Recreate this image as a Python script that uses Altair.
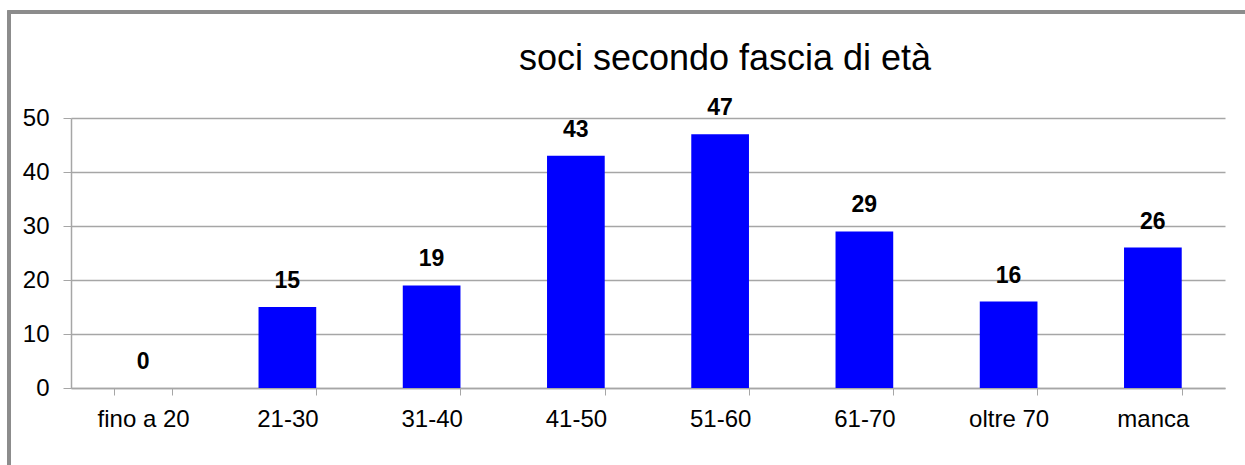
import altair as alt
import pandas as pd

categories = ["fino a 20", "21-30", "31-40", "41-50", "51-60", "61-70", "oltre 70", "manca"]
values = [0, 15, 19, 43, 47, 29, 16, 26]
y_ticks = [0, 10, 20, 30, 40, 50]

df = pd.DataFrame({"fascia": categories, "soci": values})

FONT = "Liberation Sans"
GRID = "#A6A6A6"

x_enc = alt.X(
    "fascia:N",
    sort=categories,
    scale=alt.Scale(paddingInner=0.6, paddingOuter=0.3),
    axis=alt.Axis(
        title=None,
        labelAngle=0,
        labelFont=FONT,
        labelFontSize=24,
        labelColor="#000000",
        labelPadding=12,
        tickBand="extent",
        tickSize=7,
        tickColor=GRID,
        domainColor=GRID,
        domainWidth=1.5,
        grid=False,
    ),
)
y_enc = alt.Y(
    "soci:Q",
    scale=alt.Scale(domain=[0, 50], nice=False),
    axis=alt.Axis(
        title=None,
        values=y_ticks,
        labelFont=FONT,
        labelFontSize=24,
        labelColor="#000000",
        labelPadding=14,
        tickSize=8,
        tickColor=GRID,
        domainColor=GRID,
        domainWidth=1.5,
        grid=True,
        gridColor=GRID,
        gridWidth=1.5,
    ),
)

bars = alt.Chart(df).mark_bar(color="#0000FF").encode(x=x_enc, y=y_enc)

labels = alt.Chart(df).mark_text(
    font=FONT, fontSize=23, fontWeight="bold", color="#000000",
    baseline="alphabetic", dy=-19,
).encode(x=alt.X("fascia:N", sort=categories), y="soci:Q", text="soci:Q")

border = alt.Chart(df).mark_rect(
    fill=None, stroke="#8C8C8C", strokeWidth=3
).encode(
    x=alt.value(-62), x2=alt.value(1300), y=alt.value(-106), y2=alt.value(500)
)

chart = alt.layer(border, bars, labels).properties(
    width=1154,
    height=270,
    autosize=alt.AutoSizeParams(type="none"),
    padding={"left": 71, "top": 118, "right": 20, "bottom": 77},
    title=alt.TitleParams(
        "soci secondo fascia di età",
        font=FONT,
        fontSize=36,
        fontWeight="normal",
        color="#000000",
        anchor="middle",
        frame="group",
        dx=77,
        offset=-67,
    ),
    background="#FFFFFF",
).configure_view(stroke=None)

chart.save("out.html", embed_options={"renderer": "svg", "actions": False})
